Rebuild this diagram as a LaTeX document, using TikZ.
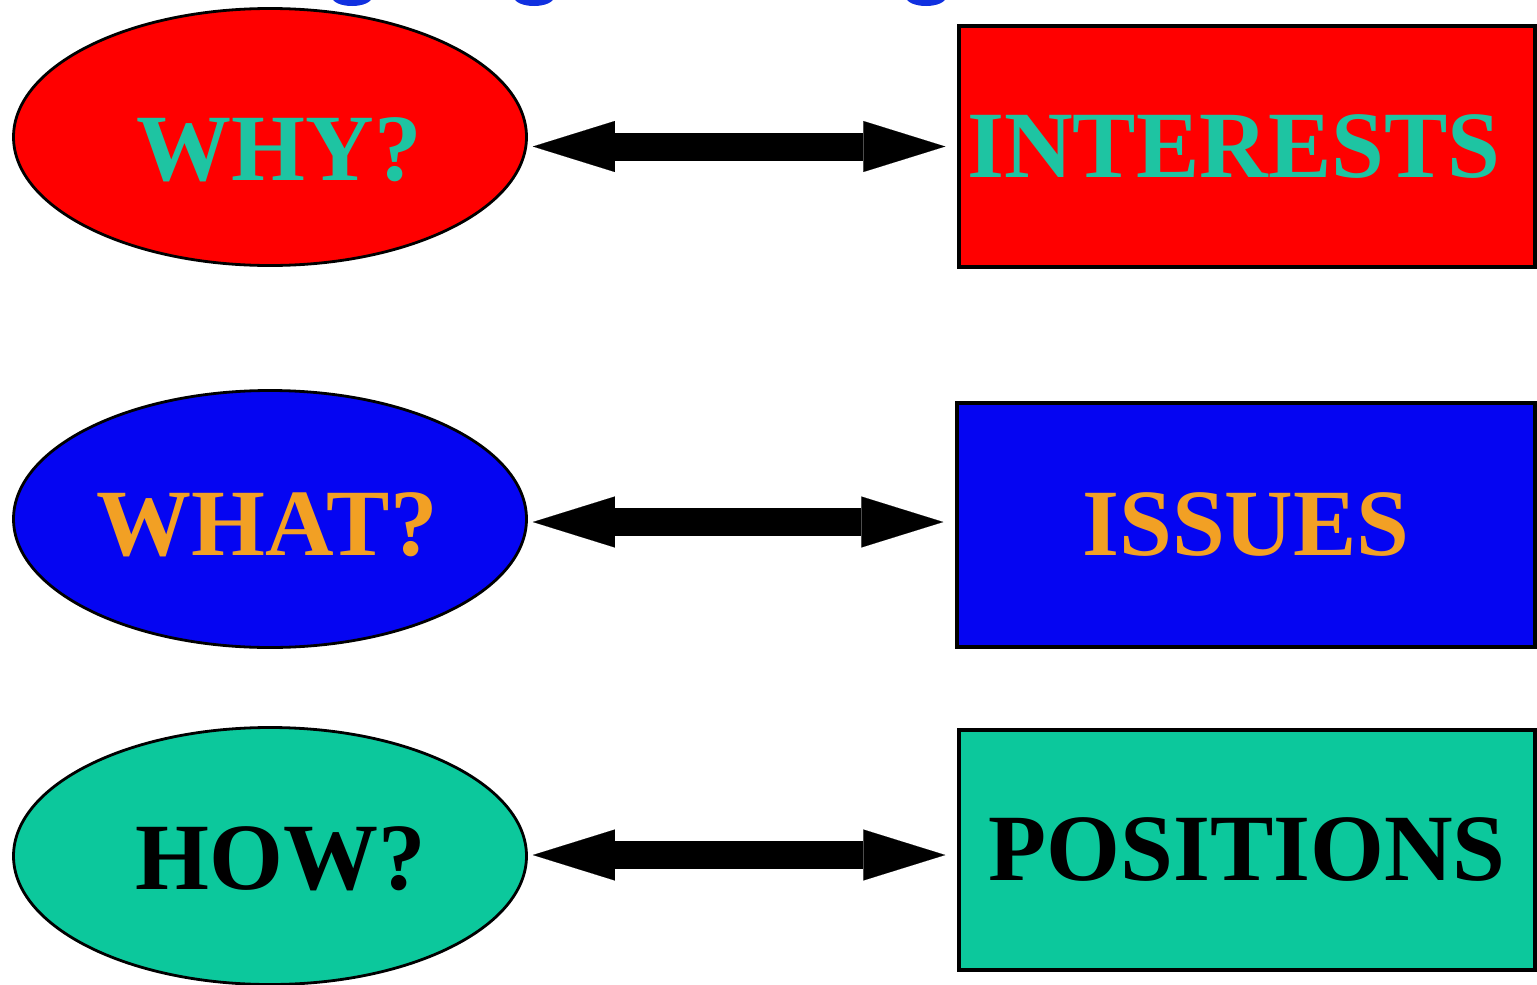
\documentclass[tikz,border=0pt]{standalone}
\usepackage{fontspec}
\setmainfont{Liberation Serif}
\usetikzlibrary{shapes.geometric,arrows.meta}
\definecolor{cred}{HTML}{FF0000}
\definecolor{cblue}{HTML}{0505F2}
\definecolor{cteal}{HTML}{0CC89C}
\definecolor{ctealtxt}{HTML}{1EC4A2}
\definecolor{corange}{HTML}{F2A024}
\definecolor{ctitle}{HTML}{1030E0}
\tikzset{
  oval/.style={ellipse, draw=black, line width=2.8pt, minimum width=513pt, minimum height=257pt, inner sep=0pt},
  panel/.style={rectangle, draw=black, line width=3.5pt, minimum width=576pt, minimum height=241pt, inner sep=0pt},
  txt/.style={font=\fontsize{95}{95}\selectfont\bfseries, inner sep=0pt},
  headtip/.tip={Triangle[length=82pt,width=51pt,line width=0.1pt]},
  biarrow/.style={line width=28pt, headtip-headtip, shorten <=5pt, shorten >=12pt}
}
\begin{document}
\begin{tikzpicture}[x=1pt,y=-1pt]
\useasboundingbox (0,0) rectangle (1537,985);
\fill[white] (0,0) rectangle (1537,985);
% cut-off title fragments at top edge
\fill[ctitle] (352,-3) ellipse (20pt and 9pt);
\fill[ctitle] (534,-3) ellipse (20pt and 9pt);
\fill[ctitle] (926,-3) ellipse (20pt and 9pt);
% left ovals
\node[oval, fill=cred, label={[txt, text=ctealtxt, yshift=-13pt, xshift=9pt, name=t1]center:WHY?}] (e1) at (270,137) {};
\node[oval, fill=cblue, label={[txt, text=corange, yshift=-6pt, xshift=-3pt, name=t2]center:WHAT?}] (e2) at (270,519) {};
\node[oval, fill=cteal, label={[txt, text=black, yshift=-3pt, xshift=11pt, name=t3]center:HOW?}] (e3) at (270,856) {};
% right panels
\node[panel, fill=cred, label={[txt, text=ctealtxt, xshift=-13pt, name=t4]center:INTERESTS}] (r1) at (1247,146.5) {};
\node[panel, fill=cblue, text=corange, txt, minimum width=578pt, minimum height=244pt] (r2) at (1246,525) {ISSUES};
\node[panel, fill=cteal, text=black, txt, minimum height=240pt] (r3) at (1247,850) {POSITIONS};
% connectors
\draw[biarrow] (e1.east |- r1.west) -- (r1.west);
\draw[biarrow] ([yshift=3pt]e2.east |- r2.west) -- ([yshift=3pt]r2.west);
\draw[biarrow] ([yshift=-5pt]e3.east |- r3.west) -- ([yshift=-5pt]r3.west);
\end{tikzpicture}
\end{document}
